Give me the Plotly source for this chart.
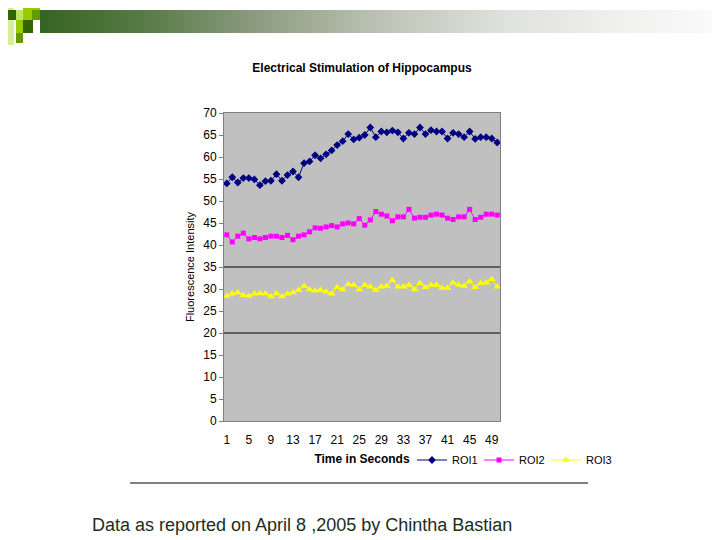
import plotly.graph_objects as go

# ===============================
# DATA
# ===============================
SECONDS = list(range(1, 51))
TICK_SECONDS = [1, 5, 9, 13, 17, 21, 25, 29, 33, 37, 41, 45, 49]

ROI1 = [54.0, 55.4, 54.2, 55.2, 55.2, 54.9, 53.6, 54.5, 54.6, 56.1,
        54.6, 55.9, 56.7, 55.4, 58.6, 59.0, 60.4, 59.7, 60.6, 61.5,
        62.7, 63.6, 65.2, 64.0, 64.4, 65.0, 66.7, 64.5, 65.8, 65.6,
        66.0, 65.6, 64.2, 65.5, 65.2, 66.7, 65.2, 66.1, 65.8, 65.8,
        64.2, 65.5, 65.2, 64.5, 65.8, 64.1, 64.5, 64.5, 64.2, 63.3]

ROI2 = [42.3, 40.7, 42.0, 42.7, 41.4, 41.7, 41.4, 41.7, 42.0, 42.0,
        41.7, 42.2, 41.2, 42.0, 42.3, 43.0, 43.9, 43.8, 44.1, 44.4,
        44.1, 44.8, 45.0, 44.8, 46.0, 44.5, 45.7, 47.6, 47.0, 46.6,
        45.5, 46.4, 46.4, 48.1, 46.1, 46.3, 46.3, 46.8, 47.0, 46.8,
        46.1, 45.8, 46.4, 46.4, 48.1, 45.8, 46.3, 47.0, 47.0, 46.8]

ROI3 = [28.4, 28.9, 29.2, 28.6, 28.4, 28.9, 29.0, 29.0, 28.3, 29.0,
        28.3, 28.9, 29.2, 29.8, 30.7, 29.9, 29.6, 29.8, 29.4, 28.9,
        30.4, 29.9, 31.1, 30.9, 29.9, 30.9, 30.5, 29.8, 30.5, 30.7,
        32.0, 30.5, 30.5, 30.9, 29.9, 31.3, 30.4, 30.9, 30.9, 30.2,
        30.2, 31.4, 30.9, 30.7, 31.7, 30.4, 31.3, 31.4, 32.2, 30.5]

GRID_VALUES = [20, 35]

# ===============================
# LAYOUT HELPERS (page pixel -> paper)
# the page body has an 8px margin, so the figure sits at (8, 8)
# ===============================
OFF = 8
W, H = 720 - OFF, 540 - OFF
L, R, T, B = 224 - OFF, 220, 113 - OFF, 119
PW, PH = W - L - R, H - T - B


def px(x):
    return (x - OFF - L) / PW


def py(y):
    return (H - B - (y - OFF)) / PH


def hex_rgb(h):
    h = h.lstrip("#")
    return [int(h[i:i + 2], 16) for i in (0, 2, 4)]


def blend(stops, t):
    for (p0, c0), (p1, c1) in zip(stops[:-1], stops[1:]):
        if p0 <= t <= p1:
            f = (t - p0) / (p1 - p0) if p1 > p0 else 0
            a, b = hex_rgb(c0), hex_rgb(c1)
            return "rgb(%d,%d,%d)" % tuple(round(a[k] + (b[k] - a[k]) * f) for k in range(3))
    return stops[-1][1]


FONT = "Arial, Liberation Sans, sans-serif"

fig = go.Figure()

series = [
    ("ROI1", ROI1, "#000080", "diamond", 6),
    ("ROI2", ROI2, "#ff00ff", "square", 5),
    ("ROI3", ROI3, "#ffff00", "triangle-up", 7),
]
for name, vals, color, sym, size in series:
    fig.add_trace(go.Scatter(
        x=SECONDS, y=vals, name=name, mode="lines+markers",
        line=dict(color=color, width=1),
        marker=dict(symbol=sym, size=size, color=color),
    ))

shapes = []
# the two gridlines that show in the original
for g in GRID_VALUES:
    shapes.append(dict(type="line", xref="paper", yref="y", x0=0, x1=1,
                       y0=g, y1=g, line=dict(color="black", width=1),
                       layer="below"))

# top banner gradient
grad = [(0.0, "#356522"), (0.15, "#577a45"), (0.32, "#8c9c80"),
        (0.5, "#bcc3b5"), (0.68, "#dfe1dc"), (0.85, "#f0f0ef"), (1.0, "#fbfbfb")]
x0b, x1b, n = 40, 720, 85
step = (x1b - x0b) / n
for i in range(n):
    shapes.append(dict(type="rect", xref="paper", yref="paper",
                       x0=px(x0b + i * step), x1=px(x0b + (i + 1) * step + 0.6),
                       y0=py(33), y1=py(10), fillcolor=blend(grad, (i + 0.5) / n),
                       line=dict(width=0)))

# banner squares
squares = [
    (8, 14, 8, 45, "#d4ee9a"),
    (8, 16, 10, 20, "#336600"),
    (23, 40, 8, 10, "#99cc00"),
    (16, 23, 10, 20, "#bde36a"),
    (23, 32, 10, 20, "#99cc00"),
    (32, 40, 10, 20, "#669900"),
    (16, 23, 20, 33, "#99cc00"),
    (23, 33, 20, 33, "#336600"),
    (16, 23, 33, 43, "#669900"),
]
for a, b, c, d, col in squares:
    shapes.append(dict(type="rect", xref="paper", yref="paper",
                       x0=px(a), x1=px(b), y0=py(d), y1=py(c),
                       fillcolor=col, line=dict(width=0)))

# separator line above footer
shapes.append(dict(type="line", xref="paper", yref="paper",
                   x0=px(130), x1=px(588), y0=py(483), y1=py(483),
                   line=dict(color="black", width=1)))

fig.update_layout(
    width=W, height=H, autosize=False,
    margin=dict(l=L, r=R, t=T, b=B, autoexpand=False),
    paper_bgcolor="white",
    plot_bgcolor="#c0c0c0",
    font=dict(family=FONT, size=11, color="black"),
    title=dict(text="<b>Electrical Stimulation of Hippocampus</b>",
               x=(362 - OFF) / W, xanchor="center",
               y=1 - (68 - OFF) / H, yanchor="middle",
               font=dict(size=12, family=FONT)),
    xaxis=dict(range=[0.5, 50.5], tickmode="array", tickvals=TICK_SECONDS,
               ticktext=[str(t) for t in TICK_SECONDS], showgrid=False,
               zeroline=False, showline=True, linecolor="#808080",
               mirror=True, ticks="", ticklabelstandoff=8,
               tickfont=dict(size=12),
               title=dict(text="<b>Time in Seconds</b>", standoff=8,
                          font=dict(size=12))),
    yaxis=dict(range=[0, 70], dtick=5, showgrid=False, zeroline=False,
               showline=True, linecolor="#808080", mirror=True,
               ticks="outside", ticklen=4, tickcolor="#808080",
               tickfont=dict(size=12),
               title=dict(text="Fluorescence Intensity", standoff=6,
                          font=dict(size=11))),
    legend=dict(orientation="h", x=px(412), xanchor="left",
                y=py(460), yanchor="middle", font=dict(size=11),
                bgcolor="rgba(0,0,0,0)", itemwidth=30, tracegroupgap=0,
                entrywidth=22),
    showlegend=True,
    shapes=shapes,
    annotations=[dict(text="Data as reported on April 8 ,2005 by Chintha Bastian",
                      xref="paper", yref="paper", x=px(90), y=py(525),
                      xanchor="left", yanchor="middle", showarrow=False,
                      font=dict(size=18, color="#1c2e1c", family=FONT))],
)

fig.write_html("out.html")
